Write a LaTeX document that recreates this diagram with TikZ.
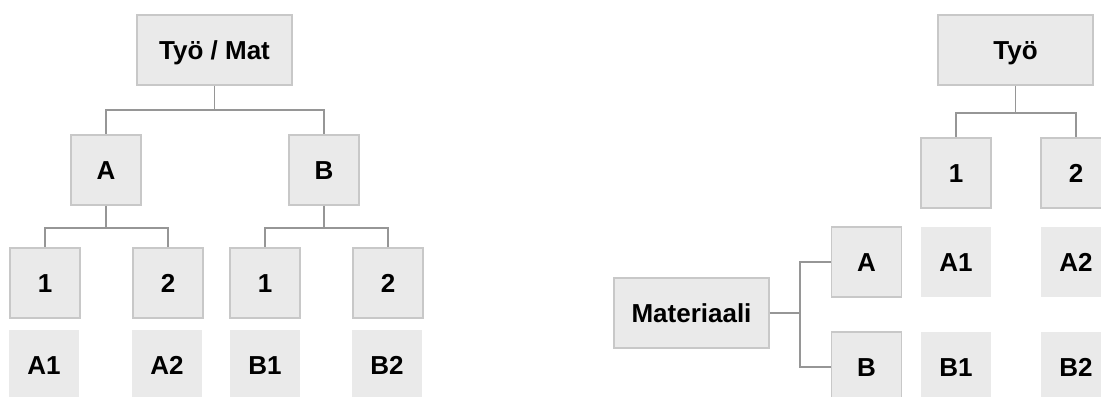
\documentclass[tikz,border=0pt]{standalone}
\usepackage{fontspec}
\setmainfont{Liberation Sans}
\definecolor{boxgray}{RGB}{234,234,234}
\definecolor{edgegray}{RGB}{200,200,200}
\definecolor{linegray}{RGB}{150,150,150}
\begin{document}
\begin{tikzpicture}[x = 0.5pt, y = -0.5pt,
  cell/.style = {fill = boxgray, inner sep = 0pt, text height = 9.3pt, text depth = 0pt,
    font = \fontsize{13}{15}\selectfont\bfseries, minimum width = 35pt, minimum height = 35pt},
  box/.style = {cell, draw = edgegray, line width = 0.9pt},
  widebox/.style = {box, minimum width = 77.5pt},
  link/.style = {draw = linegray, line width = 0.8pt}]
\clip (0,0) rectangle (1101,396);
% left tree
\node[widebox] (tm) at (214.5,50) {Työ / Mat};
\node[box] (a) at (106,170) {A};
\node[box] (b) at (324,170) {B};
\node[box] (a1) at (45,283) {1};
\node[box] (a2) at (168,283) {2};
\node[box] (b1) at (265,283) {1};
\node[box] (b2) at (388,283) {2};
\node[cell] (ca1) at (44,365) {A1};
\node[cell] (ca2) at (167,365) {A2};
\node[cell] (cb1) at (265,365) {B1};
\node[cell] (cb2) at (387,365) {B2};
\draw[link] (tm.south) -- +(0,24) -| (a.north);
\draw[link] (tm.south) -- +(0,24) -| (b.north);
\draw[link] (a.south) -- +(0,22) -| (a1.north);
\draw[link] (a.south) -- +(0,22) -| (a2.north);
\draw[link] (b.south) -- +(0,22) -| (b1.north);
\draw[link] (b.south) -- +(0,22) -| (b2.north);
% right tree
\node[widebox] (tyo) at (1015.5,50) {Työ};
\node[box] (t1) at (956,173) {1};
\node[box] (t2) at (1076,173) {2};
\node[widebox] (mat) at (691.5,313) {Materiaali};
\node[box] (ma) at (866.5,262) {A};
\node[box] (mb) at (866.5,367) {B};
\node[cell] (ra1) at (956,262) {A1};
\node[cell] (ra2) at (1076,262) {A2};
\node[cell] (rb1) at (956,367) {B1};
\node[cell] (rb2) at (1076,367) {B2};
\draw[link] (tyo.south) -- +(0,27) -| (t1.north);
\draw[link] (tyo.south) -- +(0,27) -| (t2.north);
\draw[link] (mat.east) -- +(30,0) |- (ma.west);
\draw[link] (mat.east) -- +(30,0) |- (mb.west);
\end{tikzpicture}
\end{document}
